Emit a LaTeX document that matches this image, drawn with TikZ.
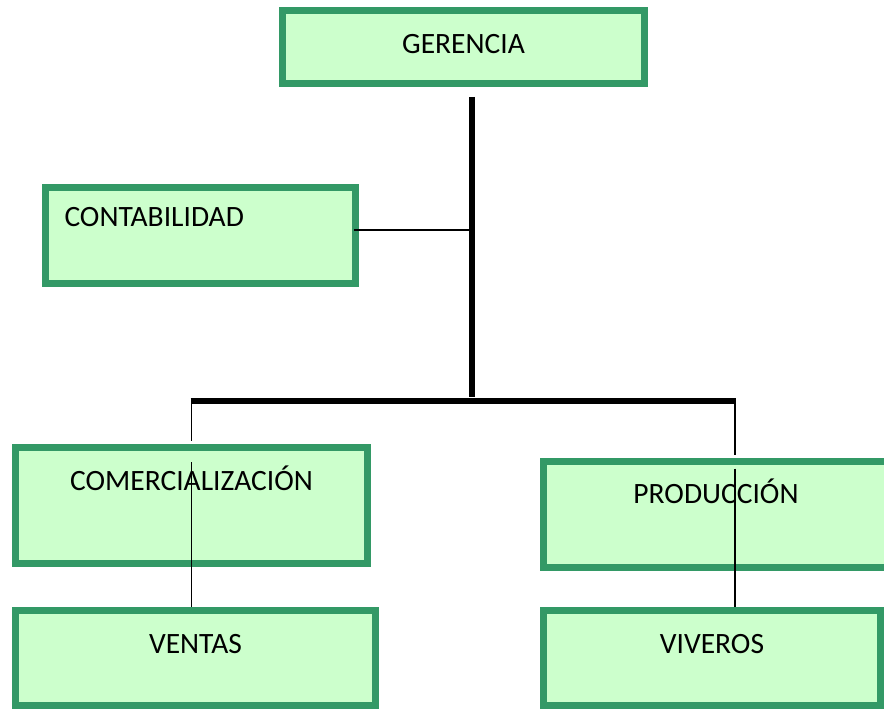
\documentclass[tikz,border=0pt]{standalone}
\usepackage{fontspec}
\setmainfont{Carlito}
\usepackage{tikz}
\definecolor{deptgreen}{RGB}{51, 153, 102}
\definecolor{deptfill}{RGB}{204, 255, 204}

\begin{document}
\begin{tikzpicture}[x=1pt, y=-1pt]
    % Styles
    \tikzstyle{dept} = [rectangle, draw=deptgreen, fill=deptfill, line width=7pt,
        inner sep=0pt, text height=18.8pt, font=\fontsize{29.5}{35}\selectfont]
    \tikzstyle{mainline} = [line width=6pt, black]
    \tikzstyle{thinline} = [line width=1.8pt, black]

    \useasboundingbox (0,0) rectangle (884,709);

    % Nodes
    \node [dept, minimum width=362pt, minimum height=73pt, text depth=6pt] (ger) at (463.5,47) {GERENCIA};
    \node [dept, minimum width=310pt, minimum height=96pt, text depth=36pt,
        text width=272pt, inner xsep=19pt, align=left] (cont) at (200.5,235.5) {CONTABILIDAD};
    \node [dept, minimum width=352pt, minimum height=116pt, text depth=49pt] (comer) at (191.5,505.5) {COMERCIALIZACIÓN};
    \node [dept, minimum width=345pt, minimum height=106pt, text depth=40pt] (prod) at (716,514.5) {PRODUCCIÓN};
    \node [dept, minimum width=360pt, minimum height=95pt, text depth=28pt] (ventas) at (195.5,658) {VENTAS};
    \node [dept, minimum width=337pt, minimum height=95pt, text depth=28pt] (viv) at (712,658) {VIVEROS};

    % Junctions
    \coordinate (gtop) at (471.5,97);
    \coordinate (hub) at (471.5,397);
    \coordinate (cj) at (471.5,230);
    \coordinate (bl) at (191.5,401);
    \coordinate (br) at (735.3,401);

    % Lines
    \draw [mainline] (gtop) -- (hub);
    \draw [mainline] (190.7,401) -- (735.9,401);
    \draw [thinline] (cj -| cont.east) ++(-5,0) -- (cj);
    \draw [thinline, shorten >=3.5pt] (bl) -- (bl |- comer.north);
    \draw [thinline] (bl |- comer.north) ++(0,18) -- (bl |- ventas.north);
    \draw [thinline, shorten >=3.5pt] (br) -- (br |- prod.north);
    \draw [thinline] (br |- prod.north) ++(0,10.5) -- (br |- viv.north);
\end{tikzpicture}
\end{document}
